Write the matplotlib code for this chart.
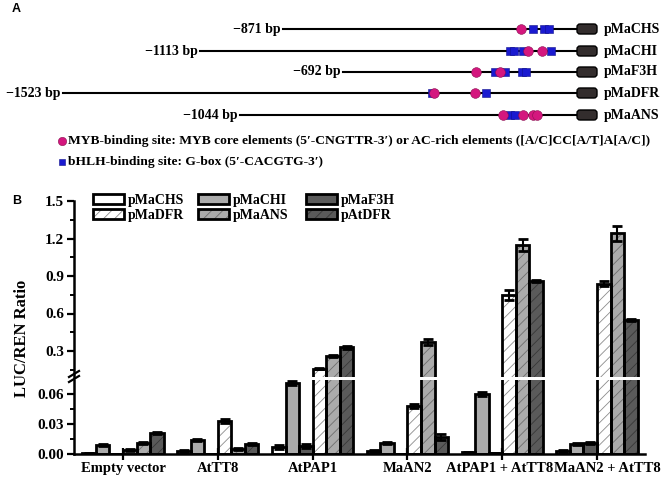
import matplotlib.pyplot as plt
import numpy as np
from matplotlib.patches import FancyBboxPatch, Patch
from matplotlib.lines import Line2D
from matplotlib.ticker import MultipleLocator, FormatStrFormatter
from matplotlib.transforms import ScaledTranslation

plt.rcParams['font.family'] = ['Liberation Serif', 'DejaVu Serif']
plt.rcParams['font.weight'] = 'bold'
plt.rcParams['hatch.linewidth'] = 0.6

W, H = 666, 484

# ---- panel A: promoter schematics (x in drawing units, box starts at 576)
promoters = ["pMaCHS", "pMaCHI", "pMaF3H", "pMaDFR", "pMaANS"]
lengths = ["\u2212871 bp", "\u22121113 bp", "\u2212692 bp", "\u22121523 bp", "\u22121044 bp"]
line_start = [283, 200, 343, 63, 240]
myb_sites = [[521], [528, 542], [476, 500], [434, 475], [503, 523, 533, 537]]
bhlh_sites = [[533, 544, 549], [510, 514, 523, 551], [495, 505, 522, 526], [432, 486],
              [510, 515]]
row_y = [29, 51, 72, 93, 115]
box_x = 576

# ---- panel B: LUC/REN ratios
groups = ["Empty vector", "AtTT8", "AtPAP1", "MaAN2", "AtPAP1 + AtTT8", "MaAN2 + AtTT8"]
series = ["pMaCHS", "pMaCHI", "pMaF3H", "pMaDFR", "pMaANS", "pAtDFR"]
chs = [0.001, 0.003, 0.007, 0.003, 0.002, 0.003]
chi = [0.009, 0.014, 0.071, 0.011, 0.060, 0.010]
f3h = [0.0, 0.0, 0.008, 0.0, 0.001, 0.011]
dfr = [0.004, 0.033, 0.16, 0.048, 0.75, 0.84]
ans = [0.011, 0.005, 0.26, 0.37, 1.15, 1.24]
atdfr = [0.021, 0.010, 0.33, 0.017, 0.86, 0.55]
chs_err = [0.0005, 0.001, 0.002, 0.001, 0.0005, 0.001]
chi_err = [0.001, 0.001, 0.002, 0.001, 0.002, 0.001]
f3h_err = [0.0, 0.0, 0.002, 0.0, 0.0005, 0.001]
dfr_err = [0.001, 0.002, 0.006, 0.002, 0.04, 0.02]
ans_err = [0.001, 0.001, 0.01, 0.025, 0.05, 0.06]
atdfr_err = [0.001, 0.001, 0.01, 0.003, 0.01, 0.01]

values = [chs, chi, f3h, dfr, ans, atdfr]
errors = [chs_err, chi_err, f3h_err, dfr_err, ans_err, atdfr_err]
fills = ["white", "#ababab", "#5a5a5a", "white", "#ababab", "#5a5a5a"]
hatch_cols = [None, None, None, "#8c8c8c", "#6e6e6e", "#383838"]

fig = plt.figure(figsize=(W / 100, H / 100), dpi=100)

# panel A in pixel-like coordinates
ax_a = fig.add_axes([0, 1 - 175 / H, 1, 175 / H])
ax_a.set_xlim(0, W)
ax_a.set_ylim(175, 0)
ax_a.axis("off")

for i, name in enumerate(promoters):
    y = row_y[i]
    ax_a.plot([line_start[i], box_x], [y, y], color="black", lw=1.5, zorder=1)
    ax_a.text(line_start[i] - 2, y, lengths[i], ha="right", va="center", fontsize=10)
    ax_a.add_patch(FancyBboxPatch((box_x + 1, y - 5), 20, 10,
                                  boxstyle="round,pad=0,rounding_size=3",
                                  fc="#332d2d", ec="black", lw=1, zorder=2))
    ax_a.text(box_x + 28, y, name, ha="left", va="center", fontsize=10)
    ax_a.plot(bhlh_sites[i], [y] * len(bhlh_sites[i]), "s", ms=5.5, color="#1a1ad0",
              mec="#10108a", mew=0.4, zorder=3)
    ax_a.plot(myb_sites[i], [y] * len(myb_sites[i]), "o", ms=7, color="#d4177e",
              mec="#8a0f50", mew=0.4, zorder=4)

ax_a.plot([62], [141], "o", ms=6, color="#d4177e", mec="#8a0f50", mew=0.4)
ax_a.text(68, 141, "MYB-binding site: MYB core elements (5\u2032-CNGTTR-3\u2032) or "
          "AC-rich elements ([A/C]CC[A/T]A[A/C])", ha="left", va="center", fontsize=9.7)
ax_a.plot([62], [162], "s", ms=4.5, color="#1a1ad0", mec="#10108a", mew=0.4)
ax_a.text(68, 162, "bHLH-binding site: G-box (5\u2032-CACGTG-3\u2032)",
          ha="left", va="center", fontsize=9.7)

fig.text(12 / W, 1 - 9 / H, "A", family="Liberation Sans", fontsize=9,
         ha="left", va="center")
fig.text(12 / W, 1 - 201 / H, "B", family="Liberation Sans", fontsize=9,
         ha="left", va="center")

# panel B: broken y axis as two stacked axes
L, R = 74 / W, 645 / W
ax_top = fig.add_axes([L, 1 - 377 / H, R - L, (377 - 201) / H])
ax_bot = fig.add_axes([L, 1 - 454 / H, R - L, (454 - 380) / H])

x = np.arange(len(groups))
w = 0.143
for ax in (ax_top, ax_bot):
    for j in range(len(series)):
        xs = x + (j - 2.5) * w
        if hatch_cols[j]:
            ax.bar(xs, values[j], w, color=fills[j], edgecolor=hatch_cols[j],
                   hatch="///", lw=0, zorder=2)
        else:
            ax.bar(xs, values[j], w, color=fills[j], lw=0, zorder=2)
        ax.bar(xs, values[j], w, facecolor="none", edgecolor="black", lw=2, zorder=3)
        ax.errorbar(xs, values[j], yerr=errors[j], fmt="none", ecolor="black",
                    elinewidth=1.5, capsize=3.5, capthick=2, zorder=4)
    ax.set_xlim(-0.517, 5.506)
    for s in ("top", "right"):
        ax.spines[s].set_visible(False)
    ax.spines["left"].set_linewidth(1.8)
    ax.tick_params(axis="y", which="major", direction="out", length=5, width=1.6,
                   labelsize=11, pad=2)
    ax.tick_params(axis="y", which="minor", direction="out", length=3, width=1.4)

ax_top.set_ylim(0.092, 1.5)
ax_top.spines["bottom"].set_visible(False)
ax_top.set_xticks([])
ax_top.yaxis.set_major_locator(MultipleLocator(0.3))
ax_top.yaxis.set_minor_locator(MultipleLocator(0.15))
ax_top.yaxis.set_major_formatter(FormatStrFormatter("%.1f"))

ax_bot.set_ylim(0, 0.074)
ax_bot.spines["bottom"].set_linewidth(1.8)
ax_bot.yaxis.set_major_locator(MultipleLocator(0.03))
ax_bot.yaxis.set_minor_locator(MultipleLocator(0.015))
ax_bot.yaxis.set_major_formatter(FormatStrFormatter("%.2f"))
ax_bot.set_xticks(x)
ax_bot.set_xticklabels(groups, fontsize=10.5)
ax_bot.tick_params(axis="x", direction="inout", length=8, width=1.6, pad=2)
# the two long combination labels sit slightly apart, as in the original
for lbl, dx in zip(ax_bot.get_xticklabels()[4:], (-3, 10)):
    lbl.set_transform(lbl.get_transform() + ScaledTranslation(dx / 100, 0, fig.dpi_scale_trans))

# break marks on the y axis
for dy in (0, 5):
    fig.add_artist(Line2D([69 / W, 79 / W], [1 - (377 + dy) / H, 1 - (371 + dy) / H],
                          color="black", lw=1.6))

fig.text(22 / W, 1 - 338 / H, "LUC/REN Ratio", rotation=90, ha="center", va="center",
         fontsize=12)

# legend: three columns of two entries
cols = [(0, 3), (1, 4), (2, 5)]
col_x = [93, 198, 306]
for (a, b), cx in zip(cols, col_x):
    handles = []
    for j in (a, b):
        base = Patch(facecolor=fills[j], edgecolor=hatch_cols[j] or fills[j],
                     hatch="///" if hatch_cols[j] else None, lw=0)
        edge = Patch(facecolor="none", edgecolor="black", lw=2)
        handles.append((base, edge))
    fig.legend(handles, [series[a], series[b]], loc="upper left",
               bbox_to_anchor=(cx / W, 1 - 194 / H), frameon=False, fontsize=10,
               handlelength=2.2, handleheight=0.7, handletextpad=0.3,
               labelspacing=0.15, borderpad=0, borderaxespad=0)

fig.savefig("out.png", dpi=100)
